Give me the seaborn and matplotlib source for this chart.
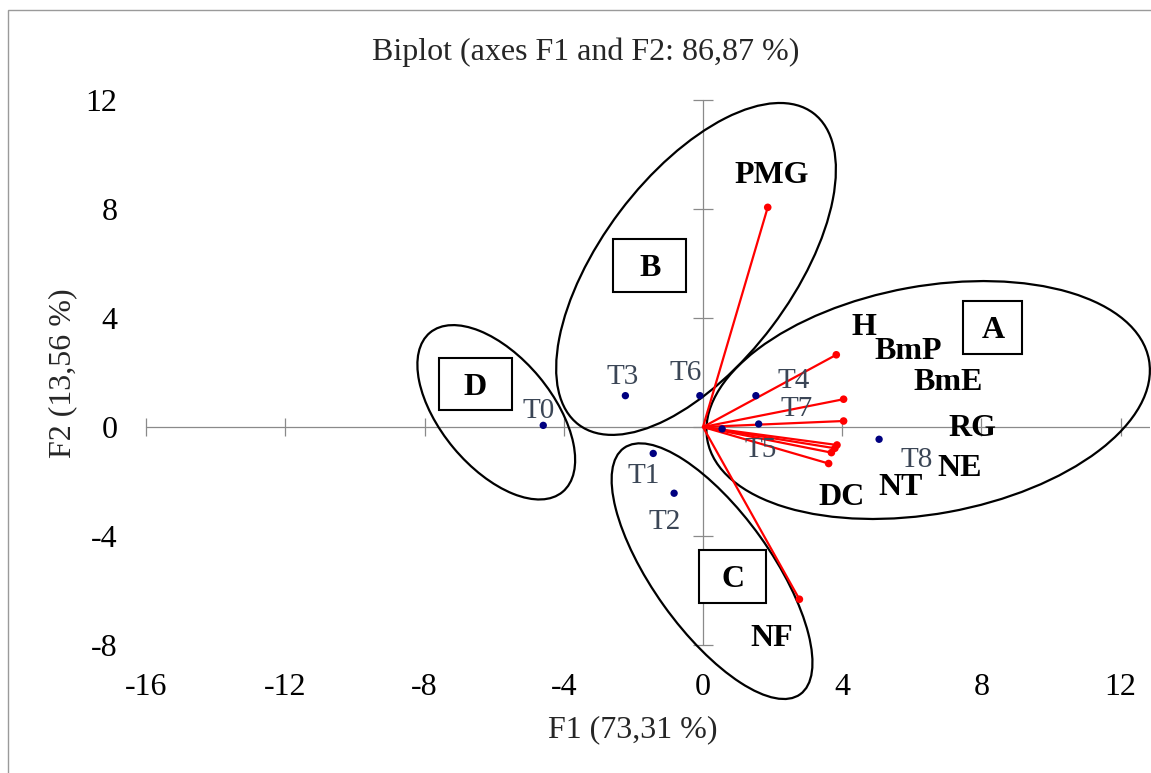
import numpy as np
import pandas as pd
import matplotlib
matplotlib.use("Agg")
import matplotlib.pyplot as plt
import seaborn as sns
from matplotlib.patches import Ellipse, Rectangle
from matplotlib.transforms import ScaledTranslation

# ---------------- data ----------------
obs_names = ["T0", "T1", "T2", "T3", "T4", "T5", "T6", "T7", "T8"]
obs_f1 = [-4.59, -1.43, -0.83, -2.23, 1.52, 0.55, -0.09, 1.60, 5.06]
obs_f2 = [0.06, -0.97, -2.43, 1.15, 1.15, -0.07, 1.15, 0.11, -0.45]

var_names = ["PMG", "H", "BmP", "BmE", "RG", "NE", "NT", "DC", "NF"]
var_f1 = [1.86, 3.83, 4.04, 4.04, 3.85, 3.79, 3.69, 3.61, 2.77]
var_f2 = [8.06, 2.65, 1.02, 0.22, -0.66, -0.78, -0.94, -1.34, -6.32]

group_names = ["A", "B", "C", "D"]

xticks = [-16, -12, -8, -4, 0, 4, 8, 12]
xtick_labels = ["-16", "-12", "-8", "-4", "0", "4", "8", "12"]
yticks = [-8, -4, 0, 4, 8, 12]
ytick_labels = ["-8", "-4", "0", "4", "8", "12"]

title = "Biplot (axes F1 and F2: 86,87 %)"
xlabel = "F1 (73,31 %)"
ylabel = "F2 (13,56 %)"

# ---------------- layout / style (pixels at dpi 100) ----------------
obs_label_offsets = [(-5, 17.5), (-10, -19.5), (-9, -26), (-3, 21), (38, 17.7),
                     (39, -18), (-14, 25), (38, 18), (38, -18)]
var_label_offsets = [(4, 35), (27.5, 30), (65, 51), (105, 42), (135, 20),
                     (125, -17.5), (69, -32), (13, -30.7), (-28, -36.5)]
# ellipse: centre (data), semi-axes (px), angle (deg)
ellipses = [((6.47, 0.99), 224.4, 113.8, 10.3),
            ((-0.20, 5.80), 195.0, 95.3, 53.0),
            ((0.26, -5.29), 151.4, 59.2, -54.4),
            ((-5.94, 0.54), 103.6, 55.6, -50.2)]
# group boxes: centre (data), size (px)
boxes = [((8.33, 3.66), 59, 53), ((-1.53, 5.92), 73, 53),
         ((0.86, -5.47), 67, 53), ((-6.54, 1.56), 73, 52)]

W, H = 1151, 773
DPI = 100
xlim = (-16.2, 12.85)
ylim = (-8.3, 12.3)
px_left, px_right = 139.2, 1150.2
px_top, px_bottom = 91.8, 653.2

sns.set_theme(style="white")
plt.rcParams["font.family"] = ["Liberation Serif", "DejaVu Serif"]

FS = 23
FS_T = 21
gray = "#8a8a8a"
tcol = "#3b4656"

fig = plt.figure(figsize=(W / DPI, H / DPI), dpi=DPI)
fig.patch.set_facecolor("white")
ax = fig.add_axes([px_left / W, 1 - px_bottom / H,
                   (px_right - px_left) / W, (px_bottom - px_top) / H])
ax.set_xlim(*xlim)
ax.set_ylim(*ylim)
for s in ax.spines.values():
    s.set_visible(False)
ax.set_facecolor("none")

# axis lines through origin
ax.plot([xticks[0], xlim[1]], [0, 0], color=gray, lw=0.9, zorder=1)
ax.plot([0, 0], [yticks[0], yticks[-1]], color=gray, lw=0.9, zorder=1)
ax.plot(xticks, [0] * len(xticks), ls="none", marker="|", ms=13, mew=0.9,
        color=gray, zorder=1)
ax.plot([0] * len(yticks), yticks, ls="none", marker="_", ms=14, mew=0.9,
        color=gray, zorder=1)

# tick labels
ax.set_xticks(xticks, labels=xtick_labels)
ax.set_yticks(yticks, labels=ytick_labels)
ax.tick_params(axis="x", length=0, pad=14.4, labelsize=FS, colors="black")
ax.tick_params(axis="y", length=0, pad=15.8, labelsize=FS, colors="black")
ax.grid(False)

# vectors
for x, y in zip(var_f1, var_f2):
    ax.plot([0, x], [0, y], color="red", lw=1.6, zorder=3)
sns.scatterplot(x=var_f1, y=var_f2, color="red", s=30, edgecolor="none",
                ax=ax, zorder=4, legend=False)

# observations
sns.scatterplot(x=obs_f1, y=obs_f2, color="#000080", s=28, edgecolor="none",
                ax=ax, zorder=5, legend=False)

cap_half = 0.662 * FS * DPI / 72 / 2
cap_half_t = 0.662 * FS_T * DPI / 72 / 2
for name, x, y, (dx, dy) in zip(obs_names, obs_f1, obs_f2, obs_label_offsets):
    ax.annotate(name, (x, y), xytext=(dx, dy - cap_half_t),
                textcoords="offset pixels", ha="center", va="baseline",
                fontsize=FS_T, color=tcol, zorder=6)
for name, x, y, (dx, dy) in zip(var_names, var_f1, var_f2, var_label_offsets):
    ax.annotate(name, (x, y), xytext=(dx, dy - cap_half),
                textcoords="offset pixels", ha="center", va="baseline",
                fontsize=FS, fontweight="bold", color="black", zorder=6)

# ellipses
for (cx, cy), a, b, ang in ellipses:
    tr = fig.dpi_scale_trans + ScaledTranslation(cx, cy, ax.transData)
    ax.add_patch(Ellipse((0, 0), 2 * a / DPI, 2 * b / DPI, angle=ang,
                         transform=tr, fill=False, ec="black", lw=1.6,
                         zorder=2, clip_on=False))

# group boxes
for name, ((cx, cy), bw, bh) in zip(group_names, boxes):
    tr = fig.dpi_scale_trans + ScaledTranslation(cx, cy, ax.transData)
    ax.add_patch(Rectangle((-bw / 2 / DPI, -bh / 2 / DPI), bw / DPI, bh / DPI,
                           transform=tr, fill=True, fc="white", ec="black",
                           lw=1.5, zorder=6, clip_on=False))
    ax.annotate(name, (cx, cy), xytext=(0, -cap_half), textcoords="offset pixels",
                ha="center", va="baseline", fontsize=FS, fontweight="bold",
                color="black", zorder=7)

# titles
fig.text(586 / W, 1 - 52 / H, title, ha="center", va="center", fontsize=FS)
fig.text(633 / W, 1 - 730 / H, xlabel, ha="center", va="center", fontsize=FS)
fig.text(62.5 / W, 1 - 373 / H, ylabel, ha="center", va="center",
         rotation=90, fontsize=FS)

# outer chart frame
fig.add_artist(Rectangle((8 / W, -0.1), 1.2, (1 - 10 / H) + 0.1,
                         transform=fig.transFigure, fill=False, ec="#9a9a9a",
                         lw=1.0))

fig.savefig("out.png", dpi=DPI)
